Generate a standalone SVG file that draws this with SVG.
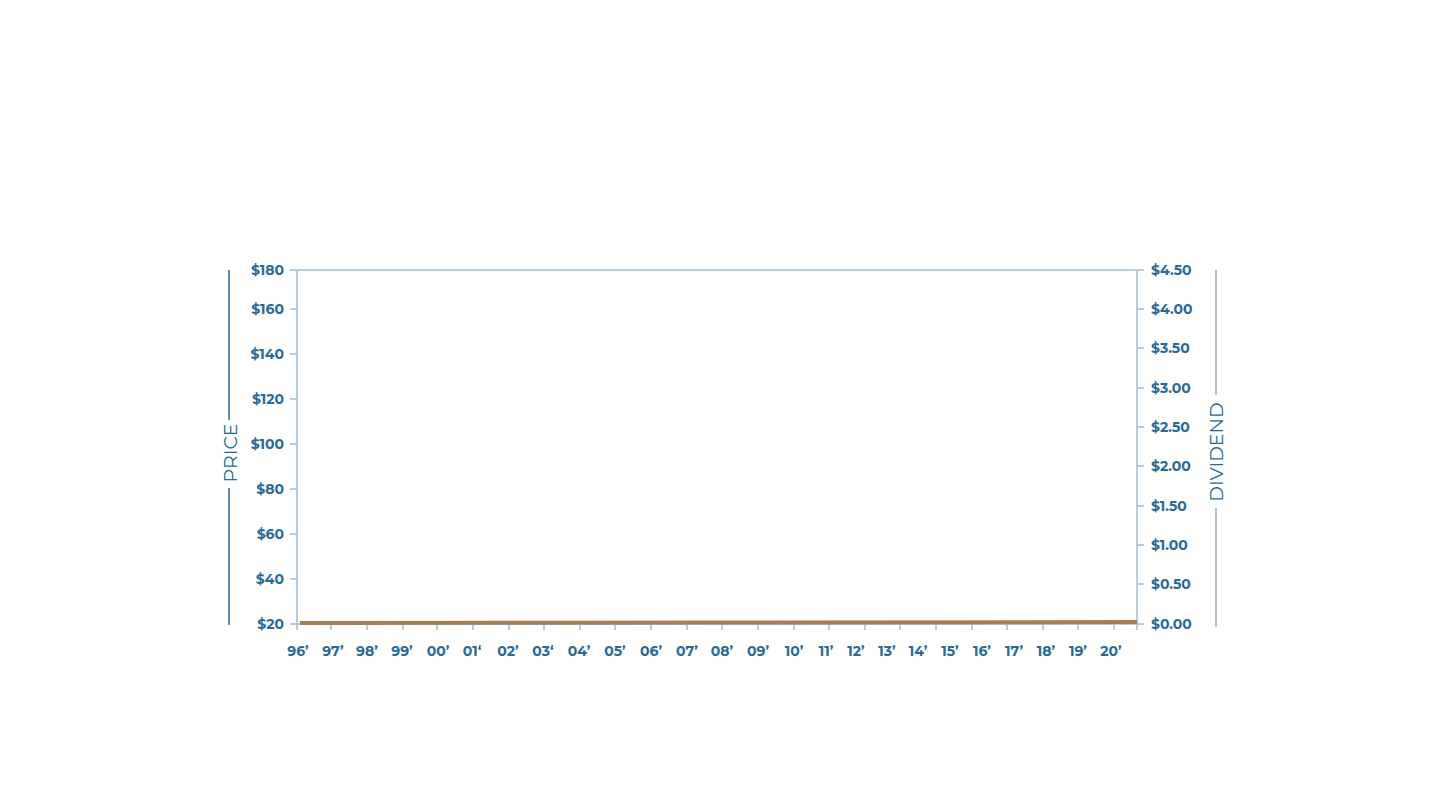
<svg xmlns="http://www.w3.org/2000/svg" width="1440" height="810" viewBox="0 0 1440 810">
<style>
text{font-family:"Montserrat","Lato","Liberation Sans",sans-serif;font-weight:bold;fill:#2b6a97;font-size:14px}
.l{text-anchor:end}
.r{text-anchor:start}
.x{text-anchor:middle}
.ax{stroke:#a3bdd1;stroke-width:1.5;fill:none}
.t{font-weight:normal;font-size:19px;text-anchor:middle}
</style>
<rect width="1440" height="810" fill="#fff"/>
<g id="axes">
<line class="ax" x1="297" y1="270" x2="1137" y2="270"/>
<line class="ax" x1="297" y1="270" x2="297" y2="630"/>
<line class="ax" x1="1137" y1="270" x2="1137" y2="630"/>
<line class="ax" x1="290" y1="624" x2="1137" y2="624"/>
<path class="ax" d="M290 309h7M290 354h7M290 399h7M290 444h7M290 489h7M290 534h7M290 579h7M290 270h7"/>
<path class="ax" d="M1137 309h7M1137 348h7M1137 388h7M1137 427h7M1137 466h7M1137 506h7M1137 545h7M1137 584h7M1137 624h7M1137 270h7"/>
<path class="ax" d="M331 624v6M367 624v6M403 624v6M437 624v6M473 624v6M509 624v6M544 624v6M580 624v6M615 624v6M651 624v6M687 624v6M722 624v6M758 624v6M794 624v6M829 624v6M865 624v6M900 624v6M936 624v6M972 624v6M1007 624v6M1043 624v6M1078 624v6M1114 624v6"/>
</g>
<g id="price-labels">
<text class="l" x="284" y="275">$180</text>
<text class="l" x="284" y="314">$160</text>
<text class="l" x="284" y="359">$140</text>
<text class="l" x="284" y="404">$120</text>
<text class="l" x="284" y="449">$100</text>
<text class="l" x="284" y="494">$80</text>
<text class="l" x="284" y="539">$60</text>
<text class="l" x="284" y="584">$40</text>
<text class="l" x="284" y="629">$20</text>
</g>
<g id="dividend-labels">
<text class="r" x="1151" y="275">$4.50</text>
<text class="r" x="1151" y="314">$4.00</text>
<text class="r" x="1151" y="353">$3.50</text>
<text class="r" x="1151" y="393">$3.00</text>
<text class="r" x="1151" y="432">$2.50</text>
<text class="r" x="1151" y="471">$2.00</text>
<text class="r" x="1151" y="511">$1.50</text>
<text class="r" x="1151" y="550">$1.00</text>
<text class="r" x="1151" y="589">$0.50</text>
<text class="r" x="1151" y="629">$0.00</text>
</g>
<g id="year-labels">
<text class="x" x="298" y="656">96’</text><text class="x" x="333" y="656">97’</text><text class="x" x="367" y="656">98’</text><text class="x" x="402" y="656">99’</text><text class="x" x="438" y="656">00’</text><text class="x" x="472" y="656">01‘</text><text class="x" x="508" y="656">02’</text><text class="x" x="543" y="656">03‘</text><text class="x" x="579" y="656">04’</text><text class="x" x="615" y="656">05’</text><text class="x" x="651" y="656">06’</text><text class="x" x="687" y="656">07’</text><text class="x" x="722" y="656">08’</text><text class="x" x="758" y="656">09’</text><text class="x" x="794" y="656">10’</text><text class="x" x="826" y="656">11’</text><text class="x" x="856" y="656">12’</text><text class="x" x="887" y="656">13’</text><text class="x" x="918" y="656">14’</text><text class="x" x="950" y="656">15’</text><text class="x" x="982" y="656">16’</text><text class="x" x="1014" y="656">17’</text><text class="x" x="1046" y="656">18’</text><text class="x" x="1078" y="656">19’</text><text class="x" x="1111" y="656">20’</text>
</g>
<g id="titles">
<line x1="229" y1="270" x2="229" y2="420" stroke="#2b6a97" stroke-width="1.5"/>
<line x1="229" y1="488" x2="229" y2="625" stroke="#2b6a97" stroke-width="1.5"/>
<text class="t" transform="translate(237,453) rotate(-90)">PRICE</text>
<line x1="1216" y1="270" x2="1216" y2="395" stroke="#8fb0c9" stroke-width="1.5"/>
<line x1="1216" y1="508" x2="1216" y2="627" stroke="#8fb0c9" stroke-width="1.5"/>
<text class="t" transform="translate(1223,452) rotate(-90)">DIVIDEND</text>
</g>
<g id="series">
<line x1="300" y1="623" x2="1137" y2="622" stroke="#a97c55" stroke-width="4"/>
</g>
</svg>
